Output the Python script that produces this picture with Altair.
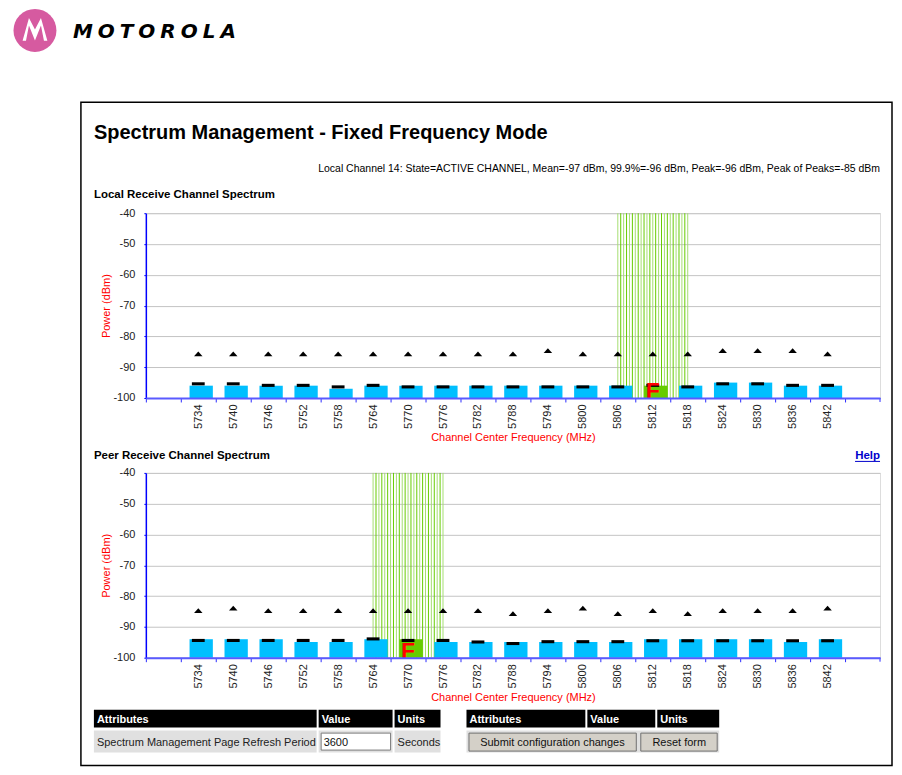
import altair as alt
import pandas as pd

FONT = "Liberation Sans"

# ---------------- data ----------------
channels = [5734, 5740, 5746, 5752, 5758, 5764, 5770, 5776, 5782, 5788,
            5794, 5800, 5806, 5812, 5818, 5824, 5830, 5836, 5842]

local_mean = [-96, -96, -96, -96, -97, -96, -96, -96, -96, -96,
              -96, -96, -96, -96, -96, -95, -95, -96, -96]
local_p999 = [-95.4, -95.4, -95.9, -95.9, -96.4, -95.9, -96.4, -96.4, -96.4, -96.4,
              -96.4, -96.4, -96.4, -95.9, -96.4, -95.4, -95.4, -95.9, -95.9]
local_peak = [-85.7, -85.7, -85.7, -85.7, -85.7, -85.7, -85.7, -85.7, -85.7, -85.7,
              -84.6, -85.7, -85.7, -85.7, -85.7, -84.6, -84.6, -84.6, -85.7]
local_active = 5812

peer_mean = [-94, -94, -94, -94.9, -94.9, -94, -94, -94.9, -94.9, -94.9,
             -94.9, -94.9, -94.9, -94, -94, -94, -94, -94.9, -94]
peer_p999 = [-94.4, -94.4, -94.4, -94.4, -94.4, -93.9, -94.4, -94.4, -94.9, -95.4,
             -94.8, -94.8, -94.8, -94.5, -94.5, -94.5, -94.5, -94.5, -94.5]
peer_peak = [-84.7, -83.9, -84.7, -84.7, -84.7, -84.7, -84.7, -84.7, -84.7, -85.7,
             -84.7, -83.9, -85.7, -84.7, -85.7, -84.7, -84.7, -84.7, -83.9]
peer_active = 5770

# interference hatch offsets (MHz) around the active channel
stripe_offsets = [-6, -5.5, -5, -4.5, -4, -3.5, -3, -2.5, -2, -1.5, -1, -0.5, 0,
                  0.5, 1, 1.5, 2, 2.5, 3, 3.5, 4, 4.5, 5, 5.5, 6]

y_ticks = [-100, -90, -80, -70, -60, -50, -40]

TITLE = "Spectrum Management - Fixed Frequency Mode"
STATUS = ("Local Channel 14: State=ACTIVE CHANNEL, Mean=-97 dBm, 99.9%=-96 dBm, "
          "Peak=-96 dBm, Peak of Peaks=-85 dBm")
LOGO = "\u2005".join("MOTOROLA")

# ---------------- styling ----------------
BLUE = "#00bfff"
GREEN = "#66cc00"
STRIPE_LIGHT = "#a6de72"
STRIPE_DARK = "#66cc00"
AXIS_TICK = "#2b2bff"
TRI = "M-1,0.55L1,0.55L0,-0.55Z"
BAT = ("M-0.62,0.52L-0.3,-0.62L0,-0.05L0.3,-0.62L0.62,0.52L0.45,0.52"
       "L0.3,-0.25L0,0.5L-0.3,-0.25L-0.45,0.52Z")

W, H = 735, 185

tick_bounds = [channels[0] - 9] + [c - 3 for c in channels] + [channels[-1] + 3, channels[-1] + 9]
xscale = alt.Scale(domain=[tick_bounds[0], tick_bounds[-1]], nice=False, zero=False)
yscale = alt.Scale(domain=[-100, -40], nice=False, zero=False)

xaxis = alt.Axis(
    values=tick_bounds[:-1],
    labelExpr=f"(datum.value > {channels[0]-4} && datum.value < {channels[-1]-2}) ? '' + (datum.value + 3) : ''",
    labelAngle=270, labelOffset=17.5, labelFlush=False, labelOverlap=False,
    labelPadding=2, labelFontSize=11, labelFont=FONT, labelColor="#222222",
    tickSize=4, tickColor=AXIS_TICK, domainColor="#5a5aff", domainWidth=2,
    grid=False, title="Channel Center Frequency (MHz)", titleColor="#ff0000",
    titleFontWeight="normal", titleFontSize=11, titleFont=FONT, titlePadding=3,
    zindex=1,
)
yaxis = alt.Axis(
    values=y_ticks, labelExpr="'' + datum.value",
    grid=True, gridColor="#c4c4c4", gridWidth=1,
    domainColor="#0000ff", domainWidth=1.5, tickColor="#0000ff", tickSize=2,
    labelPadding=9, labelFontSize=11, labelFont=FONT, labelColor="#222222",
    title="Power (dBm)", titleColor="#ff0000", titleFontWeight="normal",
    titleFontSize=11, titleFont=FONT, titlePadding=1,
)

one = pd.DataFrame({"k": [0]})


def X(field):
    return alt.X(f"{field}:Q", scale=xscale, axis=xaxis)


def Y(field):
    return alt.Y(f"{field}:Q", scale=yscale, axis=yaxis)


def YD(v):
    return alt.YDatum(v, type="quantitative", scale=yscale, axis=yaxis)


def txt(x, y, s, size=11, color="black", weight="normal", align="left", style="normal", font=FONT):
    return alt.Chart(one).mark_text(
        text=s, fontSize=size, color=color, fontWeight=weight, align=align,
        baseline="alphabetic", fontStyle=style, font=font,
    ).encode(x=alt.value(x), y=alt.value(y))


def box(x, x2, y, y2, fill, stroke="transparent", sw=0):
    return alt.Chart(one).mark_rect(fill=fill, stroke=stroke, strokeWidth=sw).encode(
        x=alt.value(x), x2=alt.value(x2), y=alt.value(y), y2=alt.value(y2))


def panel(mean, p999, peak, active, deco):
    df = pd.DataFrame({"freq": channels, "mean": mean, "p999": p999, "peak": peak})
    df["active"] = df["freq"] == active
    base = alt.Chart(df)

    stripes = alt.Chart(pd.DataFrame({"off": stripe_offsets})).transform_calculate(
        freq=f"datum.off + {active}",
        parity="abs(round(datum.off * 2)) % 2",
    ).mark_rule(strokeWidth=1).encode(
        x=X("freq"), y=YD(-40), y2=alt.Y2Datum(-100),
        color=alt.Color("parity:N", scale=alt.Scale(domain=[0, 1], range=[STRIPE_LIGHT, STRIPE_DARK]),
                        legend=None),
    )
    bars = base.transform_calculate(
        xa="datum.freq - 1.5", xb="datum.freq + 2.5"
    ).mark_rect().encode(
        x=X("xa"), x2="xb:Q", y=Y("mean"), y2=alt.Y2Datum(-100),
        color=alt.condition("datum.active", alt.value(GREEN), alt.value(BLUE)),
    )
    ticks = base.transform_calculate(
        xa="datum.freq - 1.1", xb="datum.freq + 1.1",
        ya="datum.p999 + 0.5", yb="datum.p999 - 0.5",
    ).mark_rect(color="black").encode(x=X("xa"), x2="xb:Q", y=Y("ya"), y2="yb:Q")
    peaks = base.mark_point(shape=TRI, filled=True, size=72, color="black", opacity=1).encode(
        x=X("freq"), y=Y("peak"))
    fmark = base.transform_filter("datum.active").mark_text(
        text="F", color="#ff0000", fontSize=23, fontWeight="bold", font=FONT,
        baseline="alphabetic", align="center",
    ).encode(x=X("freq"), y=YD(-100))
    # closing tick at the right end of the frequency axis
    end_tick = alt.Chart(pd.DataFrame({"freq": [tick_bounds[-1]]})).mark_rule(
        color=AXIS_TICK, strokeWidth=1).encode(x=X("freq"), y=alt.value(H), y2=alt.value(H + 4))

    return alt.layer(*deco, stripes, bars, ticks, peaks, fmark, end_tick).properties(width=W, height=H)


top_deco = [
    box(-65, 747, -111, 553, fill="transparent", stroke="black", sw=1.5),
    alt.Chart(one).mark_point(shape="circle", filled=True, size=1849, color="#d65aa0", opacity=1)
    .encode(x=alt.value(-111), y=alt.value(-183)),
    alt.Chart(one).mark_point(shape=BAT, filled=True, size=1600, color="white", opacity=1)
    .encode(x=alt.value(-111), y=alt.value(-183)),
    txt(-73, -175.5, LOGO, size=20, weight="bold", style="italic", font="DejaVu Sans"),
    txt(-52, -74, TITLE, size=20, weight="bold"),
    txt(735, -41, STATUS, size=10.5, align="right"),
    txt(-52, -15, "Local Receive Channel Spectrum", size=11.5, weight="bold"),
]

HDR_Y, HDR_Y2 = 237, 255
ROW_Y, ROW_Y2 = 258, 280
ROW_GRAY = "#e0e0e0"
BTN = "#d4d0c8"

bottom_deco = [
    txt(-52, -14, "Peer Receive Channel Spectrum", size=11.5, weight="bold"),
    txt(735, -14, "Help", size=11.5, weight="bold", color="#0000cc", align="right"),
    alt.Chart(one).mark_rule(color="#0000cc", strokeWidth=1).encode(
        x=alt.value(710), x2=alt.value(735), y=alt.value(-11.5)),
    # left table
    box(-52, 171, HDR_Y, HDR_Y2, "black"),
    box(173, 247, HDR_Y, HDR_Y2, "black"),
    box(249, 295, HDR_Y, HDR_Y2, "black"),
    txt(-49, 250, "Attributes", color="white", weight="bold"),
    txt(176, 250, "Value", color="white", weight="bold"),
    txt(252, 250, "Units", color="white", weight="bold"),
    box(-52, 171, ROW_Y, ROW_Y2, ROW_GRAY),
    box(173, 247, ROW_Y, ROW_Y2, ROW_GRAY),
    box(249, 295, ROW_Y, ROW_Y2, ROW_GRAY),
    txt(-49, 273, "Spectrum Management Page Refresh Period", color="#222222"),
    box(175.5, 245, 260.5, 277.5, "white", stroke="#7a7a7a", sw=1),
    txt(178, 273, "3600", color="#111111"),
    txt(252, 273, "Seconds", color="#222222"),
    # right table
    box(321, 440, HDR_Y, HDR_Y2, "black"),
    box(442, 510, HDR_Y, HDR_Y2, "black"),
    box(512, 574, HDR_Y, HDR_Y2, "black"),
    txt(324, 250, "Attributes", color="white", weight="bold"),
    txt(445, 250, "Value", color="white", weight="bold"),
    txt(515, 250, "Units", color="white", weight="bold"),
    box(321, 574, ROW_Y, ROW_Y2, ROW_GRAY),
    box(323.5, 491, 260.5, 278.5, BTN, stroke="#707070", sw=1),
    txt(407, 273, "Submit configuration changes", color="#111111", align="center"),
    box(495.5, 572, 260.5, 278.5, BTN, stroke="#707070", sw=1),
    txt(534, 273, "Reset form", color="#111111", align="center"),
]

top = panel(local_mean, local_p999, local_peak, local_active, top_deco)
bottom = panel(peer_mean, peer_p999, peer_peak, peer_active, bottom_deco)

chart = alt.vconcat(top, bottom, spacing=75, bounds="flush").properties(
    padding={"left": 5, "top": 0, "right": 0, "bottom": 0}
).configure_view(stroke=None).configure(font=FONT)

chart.save("out.html", embed_options={"renderer": "svg", "actions": False})
